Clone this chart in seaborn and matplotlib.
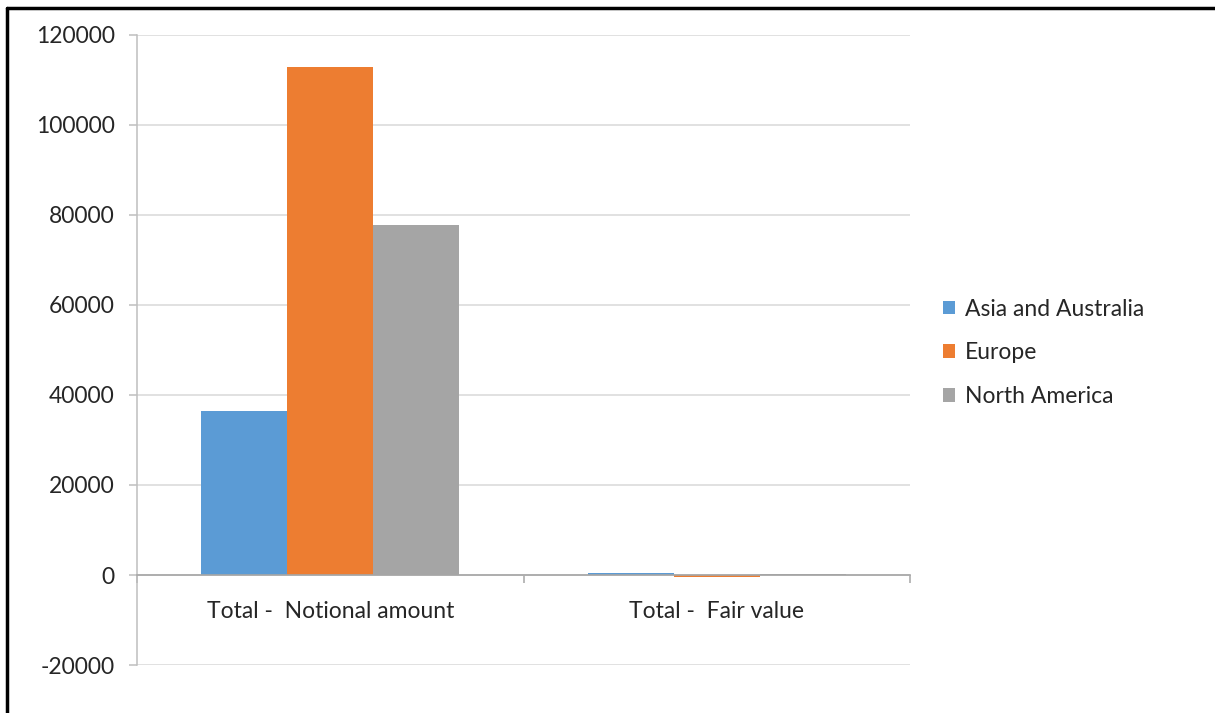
import matplotlib
matplotlib.use("Agg")
import matplotlib.pyplot as plt
from matplotlib.lines import Line2D
from matplotlib.ticker import FixedLocator
import seaborn as sns
import pandas as pd

# ── data ─────────────────────────────────────
categories = ["Total -  Notional amount", "Total -  Fair value"]
regions = ["Asia and Australia", "Europe", "North America"]
asia = [36500, 350]
europe = [112800, -550]
north_america = [77700, 150]
colors = ["#5B9BD5", "#ED7D31", "#A5A5A5"]

rows = []
for region, vals in zip(regions, [asia, europe, north_america]):
    for cat, v in zip(categories, vals):
        rows.append({"category": cat, "region": region, "value": v})
df = pd.DataFrame(rows)

# ── plot ─────────────────────────────────────
sns.set_theme(style="white")
plt.rcParams["font.family"] = ["Lato", "DejaVu Sans"]
plt.rcParams["axes.unicode_minus"] = False
FS = 16.5

fig = plt.figure(figsize=(12.15, 7.13), dpi=100)
ax = fig.add_axes([0.1128, 0.0673, 0.6362, 0.8837])

sns.barplot(data=df, x="category", y="value", hue="region", order=categories,
            hue_order=regions, palette=colors, width=0.667, gap=0,
            saturation=1, linewidth=0, ax=ax, errorbar=None)

ax.set_xlim(-0.5, 1.5)
ax.set_ylim(-20000, 120000)
ax.set_yticks(range(-20000, 120001, 20000))
ax.set_xlabel("")
ax.set_ylabel("")
ax.yaxis.grid(True, color="#D9D9D9", linewidth=1.1)
ax.set_axisbelow(True)

for s in ["top", "right"]:
    ax.spines[s].set_visible(False)
ax.spines["left"].set_color("#BFBFBF")
ax.spines["left"].set_linewidth(1.1)
ax.spines["bottom"].set_position(("data", 0))
ax.spines["bottom"].set_color("#A6A6A6")
ax.spines["bottom"].set_linewidth(1.2)

ax.tick_params(axis="y", left=True, length=6, color="#BFBFBF", width=1.1,
               labelsize=FS, labelcolor="#262626", pad=10)
ax.tick_params(axis="x", which="major", length=0, labelsize=FS,
               labelcolor="#262626", pad=19)
ax.xaxis.set_minor_locator(FixedLocator([-0.5, 0.5, 1.5]))
ax.tick_params(axis="x", which="minor", bottom=True, length=6,
               color="#A6A6A6", width=1.1)

handles, labels = ax.get_legend_handles_labels()
ax.legend_.remove()
fig.legend(handles, labels, loc="center left", bbox_to_anchor=(0.759, 0.505),
           frameon=False, fontsize=FS, handlelength=0.55, handleheight=0.55,
           handletextpad=0.4, labelspacing=1.0, labelcolor="#262626")

# outer border (top and left edge of the framed screenshot)
fig.add_artist(Line2D([0.0055, 1.0], [0.9885, 0.9885], color="black",
                      linewidth=2.5, transform=fig.transFigure))
fig.add_artist(Line2D([0.0055, 0.0055], [0.0, 0.9885], color="black",
                      linewidth=2.5, transform=fig.transFigure))

fig.savefig("out.png", dpi=100)
